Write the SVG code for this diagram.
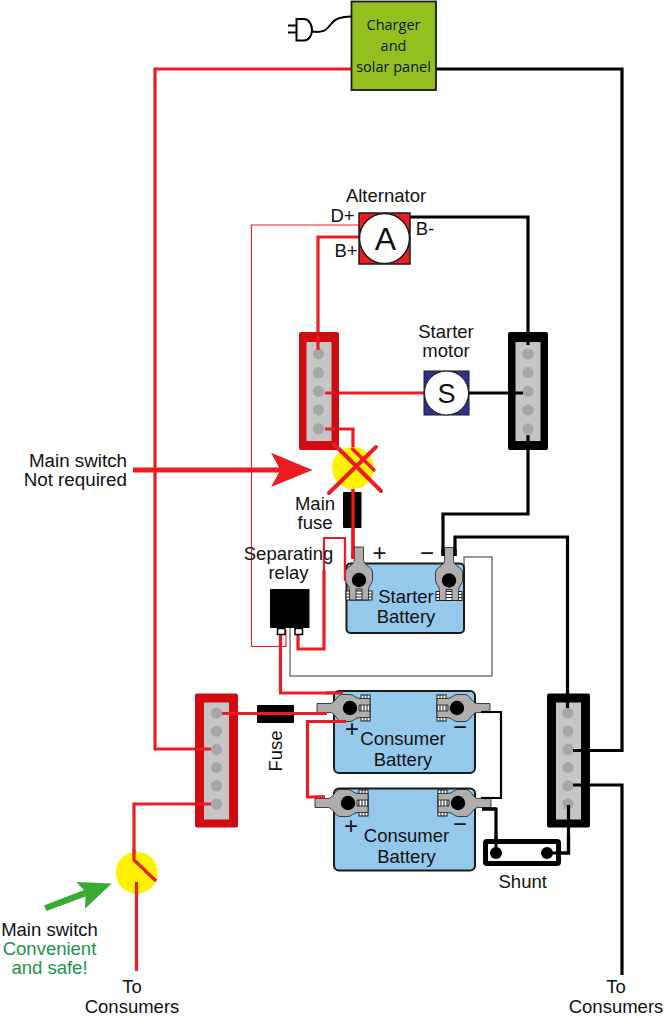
<svg xmlns="http://www.w3.org/2000/svg" xmlns:xlink="http://www.w3.org/1999/xlink" width="666" height="1024" viewBox="0 0 666 1024">
<style>
text{font-family:"Liberation Sans",Arial,sans-serif;font-size:18.5px;fill:#111;text-anchor:middle}
.ch{font-family:"Open Sans","Noto Sans",sans-serif;font-size:14.5px}
.w{fill:none;stroke-linejoin:miter}
.r{stroke:#ed1c24;stroke-width:3.2}
.r2{stroke:#ed1c24;stroke-width:2.2}
.k{stroke:#000;stroke-width:3.2}
.k2{stroke:#000;stroke-width:2.2}
.bat{fill:#95c9ec;stroke:#1a1a1a;stroke-width:2}
.inner{fill:#c6c6c6}
.dot{fill:#a6a6a6}
.sw{fill:#fff200}
.sym{font-size:24px}
</style>
<defs>
<g id="dots"><circle class="dot" cy="0" r="5.6"/><circle class="dot" cy="18.2" r="5.6"/><circle class="dot" cy="36.4" r="5.6"/><circle class="dot" cy="54.6" r="5.6"/><circle class="dot" cy="72.8" r="5.6"/><circle class="dot" cy="91" r="5.6"/></g>
<g id="dots5"><circle class="dot" cy="0" r="5.6"/><circle class="dot" cy="18.7" r="5.6"/><circle class="dot" cy="37.4" r="5.6"/><circle class="dot" cy="56.1" r="5.6"/><circle class="dot" cy="74.8" r="5.6"/></g>
<g id="term">
<rect x="-13" y="11" width="26" height="9" fill="#fff" stroke="#1a1a1a" stroke-width="1"/>
<path d="M-13 14H13M-13 17H13" stroke="#1a1a1a" stroke-width="1"/>
<path d="M-4.500-33H4.500V-20C4.500-15 13.500-13 13.500-8V0C13.500 4 9.500 5 9.500 10V20H3V9H-3V20H-9.500V10C-9.500 5-13.500 4-13.500 0V-8C-13.500-13-4.500-15-4.500-20Z" fill="#b0aeac" stroke="#1a1a1a" stroke-width="0.8"/>
<path d="M-3 20H3" stroke="#1a1a1a" stroke-width="1"/>
<circle r="7.2" fill="#000"/>
</g>
</defs>
<g id="connectors">
<path class="w r" d="M351 69H155V749H211"/>
<path class="w k" d="M436 69H622V750.500H573"/>
<path class="w k" d="M573 785H622V975"/>
<path class="w" stroke="#ed1c24" stroke-width="1.100" d="M359 225H251.500V646.500H286V630"/>
<path class="w r" d="M359 237H318V350"/>
<path class="w k" d="M410 217H528V345"/>
<path class="w k" d="M528 435V514H443V556"/>
<path class="w k" d="M455 556V537H567.500V708"/>
<path class="w r" d="M325 393H424"/>
<path class="w k" d="M469 393H523"/>
<path class="w r" d="M325 429H353V470"/>
<path class="w" stroke="#777" stroke-width="1.500" d="M290 628V676H492V557H464V566"/>
<path class="w r" d="M298 632V649H324V570"/>
<path class="w r2" d="M324 570V538H345V581"/>
<path class="w r" d="M280.500 632V693H343"/>
<path class="w r" d="M222 713.500H327"/>
<path class="w r" d="M346 721.500H307.500V797H325"/>
<path class="w k2" d="M481 712H501V798H481"/>
<path class="w k" d="M482 809H496V853"/>
<path class="w k" d="M547 853H568.500V805"/>
<path class="w r" d="M211 804H134V860L156 881"/>
<path class="w r" d="M136.500 882V971"/>
</g>
<g id="charger"><rect x="351.500" y="1.500" width="84.500" height="88.500" fill="#93c01f" stroke="#1a1a1a" stroke-width="1.800"/>
<text class="ch" x="393.500" y="30">Charger</text><text class="ch" x="393.500" y="51">and</text><text class="ch" x="393.500" y="72">solar panel</text></g>
<g id="plug" fill="none" stroke="#000" stroke-width="2"><path d="M288 25.500H298M288 32.500H298"/><path d="M296.500 19H304C309 19 312 25 312 30C312 35 309 40.500 304 40.500H296.500Z" fill="#fff"/><path d="M312 31.500C322 33 326 31 331 24C335 18 342 16.500 351 16.500"/></g>
<g id="alternator"><rect x="359" y="213" width="51" height="51" fill="#ed1c24" stroke="#1a1a1a" stroke-width="1.500"/><circle cx="384.500" cy="238.500" r="25" fill="#fff" stroke="#1a1a1a" stroke-width="1.500"/>
<text x="385.500" y="250" style="font-size:32px">A</text><text x="386" y="202">Alternator</text><text x="342.500" y="221.500">D+</text><text x="346" y="256.500">B+</text><text x="425" y="235">B-</text></g>
<g id="starter-motor"><rect x="424" y="371" width="45" height="44" fill="#2e3192" stroke="#1a1a1a" stroke-width="1"/><circle cx="446.500" cy="393" r="22" fill="#fff" stroke="#1a1a1a" stroke-width="1"/>
<text x="446.500" y="402.500" style="font-size:27px">S</text><text x="446" y="337.500">Starter</text><text x="446" y="356.500">motor</text></g>
<g id="bus-upper-red"><rect x="299" y="332" width="40" height="118" rx="2" fill="#d20a11"/><rect class="inner" x="306.500" y="342" width="25" height="99"/><use xlink:href="#dots5" href="#dots5" x="318.500" y="354"/></g>
<g id="bus-upper-black"><rect x="508" y="332" width="40" height="118" rx="2" fill="#000"/><rect class="inner" x="515.500" y="342" width="25" height="99"/><use xlink:href="#dots5" href="#dots5" x="528" y="354"/></g>
<g id="bus-lower-red"><rect x="195" y="693.500" width="43" height="134" rx="2" fill="#d20a11"/><rect class="inner" x="204" y="702.500" width="25" height="117"/><use xlink:href="#dots" href="#dots" x="216.500" y="713"/></g>
<g id="bus-lower-black"><rect x="547" y="693.500" width="43" height="134" rx="2" fill="#000"/><rect class="inner" x="556" y="702.500" width="25" height="117"/><use xlink:href="#dots" href="#dots" x="568" y="713"/></g>
<g id="bus-wires">
<path class="w r" d="M318 336V350M325 393H335M325 429H335"/>
<path class="w k" d="M528 336V345M528 435V448M523 393H510"/>
<path class="w r" d="M222 713.500H240M211 749H197M211 804H197"/>
<path class="w k" d="M567.500 696V708M568.500 805V826M573 750.500H588M573 785H588"/>
</g>
<g id="main-switch-top"><circle class="sw" cx="353" cy="468" r="21"/>
<path class="w r" d="M353 489V558"/>
<path class="w r" stroke-linecap="round" d="M352.500 449L374 470"/>
<g fill="none" stroke="#ed1c24" stroke-width="4" stroke-linecap="round"><path d="M334 444L381 491M329 493L376 447"/></g>
<path fill="#ed1c24" d="M133 467.500H279L271 452.700L312.600 470L271 487L279 472.500H133Z"/>
<text style="text-anchor:end;font-size:18.800px" x="127" y="467">Main switch</text><text style="text-anchor:end;font-size:18.800px" x="127" y="486">Not required</text></g>
<g id="main-fuse"><rect x="343" y="492" width="18.500" height="36" rx="1" fill="#000"/><path class="w r" d="M353 489V558"/><text x="315" y="510">Main</text><text x="315" y="529">fuse</text></g>
<g id="relay"><rect x="270" y="589" width="39.500" height="39" rx="1" fill="#000"/><rect x="277.500" y="628.500" width="7.500" height="6" fill="#fff" stroke="#000" stroke-width="1.500"/><rect x="295" y="628.500" width="7.500" height="6" fill="#fff" stroke="#000" stroke-width="1.500"/><text x="288.500" y="560">Separating</text><text x="288.500" y="579">relay</text></g>
<g id="starter-battery"><rect class="bat" x="346.500" y="563.500" width="117.500" height="69.500" rx="4"/>
<use xlink:href="#term" href="#term" transform="translate(359 580)"/><use xlink:href="#term" href="#term" transform="translate(449 580.500)"/>
<path class="w r" d="M353 549V559"/><path class="w r2" d="M345 555V581"/><path class="w k" d="M443 549V556M455 549V556"/>
<text x="406" y="602.500">Starter</text><text x="406" y="622.500">Battery</text><text class="sym" x="379.500" y="561">+</text><text class="sym" x="427" y="561">−</text></g>
<g id="consumer-battery-1"><rect class="bat" x="334" y="691" width="141" height="82" rx="5"/>
<use xlink:href="#term" href="#term" transform="translate(350 708) rotate(-90)"/><use xlink:href="#term" href="#term" transform="translate(457 708) rotate(90)"/>
<path class="w r" d="M316 713.500H327M326 721.500H346M326 693H343"/><path class="w k2" d="M481 712H491"/>
<text x="403" y="745">Consumer</text><text x="403" y="766">Battery</text><text class="sym" x="352" y="737">+</text><text class="sym" x="460" y="735">−</text></g>
<g id="consumer-battery-2"><rect class="bat" x="334" y="788.500" width="141" height="82" rx="5"/>
<use xlink:href="#term" href="#term" transform="translate(348 803) rotate(-90)"/><use xlink:href="#term" href="#term" transform="translate(458 803) rotate(90)"/>
<path class="w r" d="M315 797H325"/><path class="w k2" d="M481 798H491"/>
<path class="w k" d="M482 809H496"/>
<text x="406.500" y="842">Consumer</text><text x="406.500" y="863">Battery</text><text class="sym" x="351" y="834">+</text><text class="sym" x="460" y="832">−</text></g>
<g id="fuse"><rect x="257" y="705" width="37" height="18" rx="1" fill="#000"/><path class="w r" d="M257 713.500H294"/><text transform="translate(281.500 751) rotate(-90)">Fuse</text></g>
<g id="shunt"><rect x="485.500" y="841.500" width="73" height="22" rx="1.500" fill="#fff" stroke="#000" stroke-width="5"/><circle cx="496" cy="853" r="6" fill="#000"/><circle cx="547" cy="853" r="6" fill="#000"/><path class="w k" d="M496 835V853M547 853H568.500V835"/><text x="522.700" y="887.500">Shunt</text></g>
<g id="main-switch-bottom"><circle class="sw" cx="136.700" cy="872.700" r="21"/><path class="w r" d="M134 850V860L156 881"/><path class="w r" d="M136.500 882V895"/>
<path fill="#3aaa35" d="M44 905.500L84 890L76 882L111.700 883.500L85 908.700L85.500 896.500L46.500 911Z"/>
<text x="49.500" y="936">Main switch</text><text x="49.500" y="955" style="fill:#1a9447">Convenient</text><text x="49.500" y="974" style="fill:#1a9447">and safe!</text></g>
<g id="labels-consumers"><text x="132" y="993">To</text><text x="132" y="1012.500">Consumers</text><text x="616" y="993">To</text><text x="616" y="1012.500">Consumers</text></g>
</svg>
